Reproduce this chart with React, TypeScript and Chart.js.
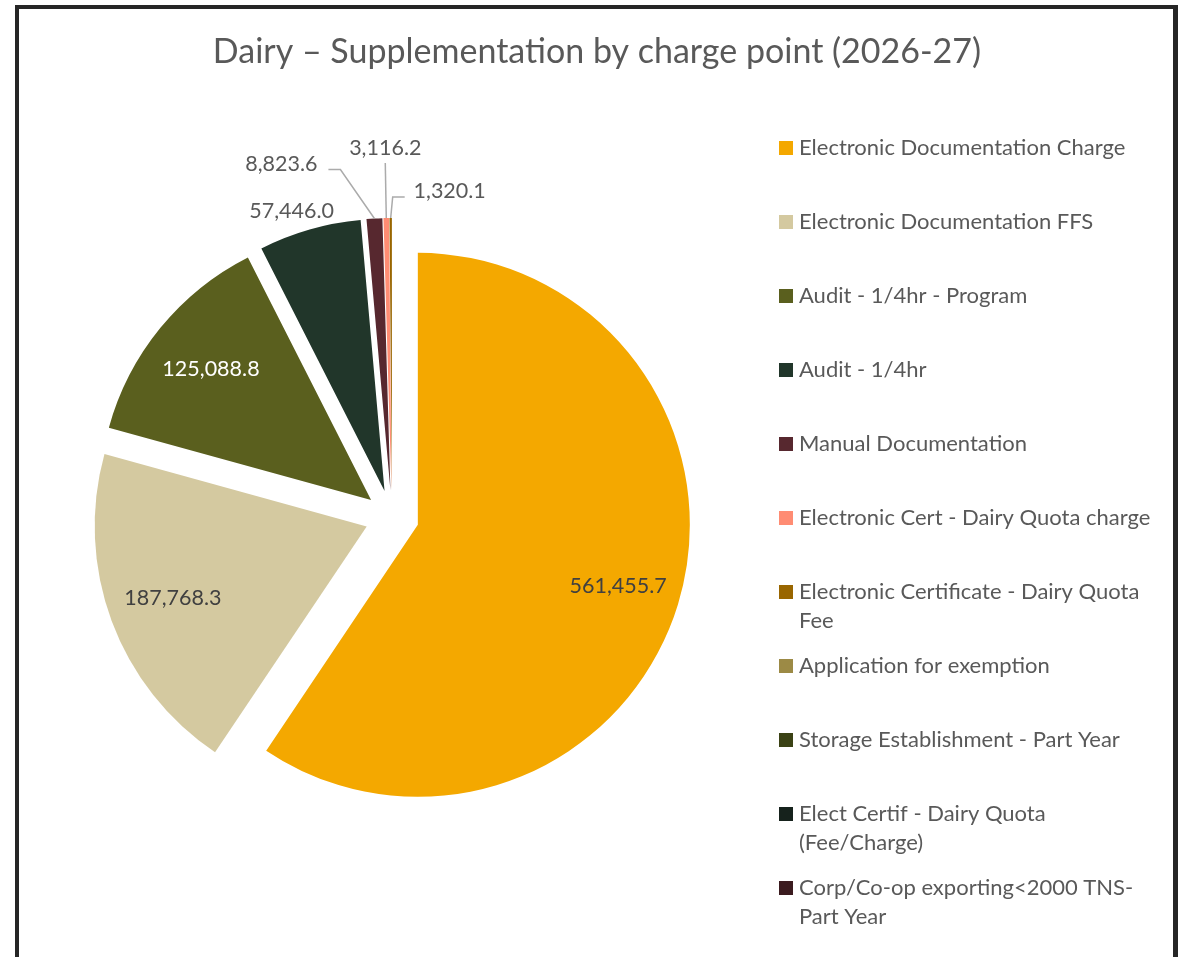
import React, { useEffect, useRef } from "react";
import { Chart, registerables } from "chart.js";

Chart.register(...registerables);

const TITLE = "Dairy – Supplementation by charge point (2026-27)";

const categories: string[] = [
  "Electronic Documentation Charge",
  "Electronic Documentation FFS",
  "Audit - 1/4hr - Program",
  "Audit - 1/4hr",
  "Manual Documentation",
  "Electronic Cert - Dairy Quota charge",
  "Electronic Certificate - Dairy Quota\nFee",
  "Application for exemption",
  "Storage Establishment - Part Year",
  "Elect Certif - Dairy Quota\n(Fee/Charge)",
  "Corp/Co-op exporting<2000 TNS-\nPart Year",
];

const values: number[] = [561455.7, 187768.3, 125088.8, 57446.0, 8823.6, 3116.2, 1320.1, 0, 0, 0, 0];

const colors: string[] = [
  "#F4A800",
  "#D4C9A0",
  "#5A5F1E",
  "#21362A",
  "#57282F",
  "#FF8C73",
  "#996600",
  "#9C8A45",
  "#3B4215",
  "#16221C",
  "#3B1B1F",
];

// layout
const PIE_RADIUS = 272;
const EXPLODE = 27;
const FONT = "Lato, 'Open Sans', sans-serif";
const TEXT_GRAY = "#595959";
const LEADER = "#ABABAB";

type LabelLayout =
  | { kind: "in"; frac: number; color: string }
  | { kind: "out"; dx: number; dy: number; color: string; leader: number[][] };

const labelLayout: LabelLayout[] = [
  { kind: "in", frac: 0.77, color: "#404040" },
  { kind: "in", frac: 0.76, color: "#404040" },
  { kind: "in", frac: 0.76, color: "#FFFFFF" },
  { kind: "out", dx: -18, dy: -19, color: TEXT_GRAY, leader: [] },
  { kind: "out", dx: -93, dy: -54, color: TEXT_GRAY, leader: [[-34, -49], [-46, -49]] },
  { kind: "out", dx: -1, dy: -70, color: TEXT_GRAY, leader: [[-1, -55]] },
  { kind: "out", dx: 59, dy: -27, color: TEXT_GRAY, leader: [[2, -21], [14, -21]] },
];

const fmt = (v: number) =>
  v.toLocaleString("en-US", { minimumFractionDigits: 1, maximumFractionDigits: 1 });

const decorPlugin = {
  id: "decor",
  beforeDatasetsDraw(chart: any) {
    // explode every slice outward along its mid-angle
    const a = chart.chartArea;
    const bx = (a.left + a.right) / 2;
    const by = (a.top + a.bottom) / 2;
    const meta = chart.getDatasetMeta(0);
    meta.data.forEach((arc: any) => {
      const mid = (arc.startAngle + arc.endAngle) / 2;
      arc.x = bx + Math.cos(mid) * EXPLODE;
      arc.y = by + Math.sin(mid) * EXPLODE;
    });
  },
  afterDatasetsDraw(chart: any) {
    const ctx: CanvasRenderingContext2D = chart.ctx;
    const meta = chart.getDatasetMeta(0);
    ctx.save();
    ctx.font = `21.5px ${FONT}`;
    ctx.textAlign = "center";
    ctx.textBaseline = "middle";
    meta.data.forEach((arc: any, i: number) => {
      const L = labelLayout[i];
      if (!L || !values[i]) return;
      const mid = (arc.startAngle + arc.endAngle) / 2;
      const cx = arc.x;
      const cy = arc.y;
      const R = arc.outerRadius;
      const text = fmt(values[i]);
      if (L.kind === "in") {
        const r = R * L.frac;
        ctx.fillStyle = L.color;
        ctx.fillText(text, cx + Math.cos(mid) * r, cy + Math.sin(mid) * r);
      } else {
        const px = cx + Math.cos(mid) * R;
        const py = cy + Math.sin(mid) * R;
        if (L.leader.length) {
          ctx.strokeStyle = LEADER;
          ctx.lineWidth = 1.5;
          ctx.beginPath();
          ctx.moveTo(px, py);
          L.leader.forEach(([dx, dy]) => ctx.lineTo(px + dx, py + dy));
          ctx.stroke();
        }
        ctx.fillStyle = L.color;
        ctx.fillText(text, px + L.dx, py + L.dy);
      }
    });
    ctx.restore();
  },
  afterDraw(chart: any) {
    const ctx: CanvasRenderingContext2D = chart.ctx;
    ctx.save();
    // frame
    ctx.fillStyle = "#262626";
    ctx.fillRect(15, 5, 1163, 4);
    ctx.fillRect(15, 5, 4, 960);
    ctx.fillRect(1173, 5, 5, 960);
    // title
    ctx.fillStyle = TEXT_GRAY;
    ctx.font = `34px ${FONT}`;
    ctx.textAlign = "center";
    ctx.textBaseline = "middle";
    ctx.fillText(TITLE, 597, 52);
    // legend
    ctx.font = `22px ${FONT}`;
    ctx.textAlign = "left";
    categories.forEach((c, i) => {
      const y0 = 148 + 74 * i;
      ctx.fillStyle = colors[i];
      ctx.fillRect(779, y0 - 7, 14, 14);
      ctx.fillStyle = TEXT_GRAY;
      c.split("\n").forEach((line, k) => ctx.fillText(line, 799, y0 + 29 * k));
    });
    ctx.restore();
  },
};

export default function App() {
  const ref = useRef<HTMLCanvasElement>(null);
  useEffect(() => {
    const canvas = ref.current!;
    const chart = new Chart(canvas, {
      type: "pie",
      data: {
        labels: categories,
        datasets: [
          {
            data: values,
            backgroundColor: colors,
            borderWidth: 0,
            radius: PIE_RADIUS,
          } as any,
        ],
      },
      options: {
        responsive: false,
        animation: false,
        radius: PIE_RADIUS,
        events: [],
        layout: { padding: { left: 0, right: 404, top: 77, bottom: 0 } },
        plugins: {
          legend: { display: false },
          title: { display: false },
          tooltip: { enabled: false },
        },
      } as any,
      plugins: [decorPlugin],
    });
    return () => chart.destroy();
  }, []);
  return (
    <div style={{ position: "fixed", left: 0, top: 0, width: 1188, height: 957, background: "#fff" }}>
      <canvas ref={ref} width={1188} height={957} style={{ display: "block" }} />
    </div>
  );
}
